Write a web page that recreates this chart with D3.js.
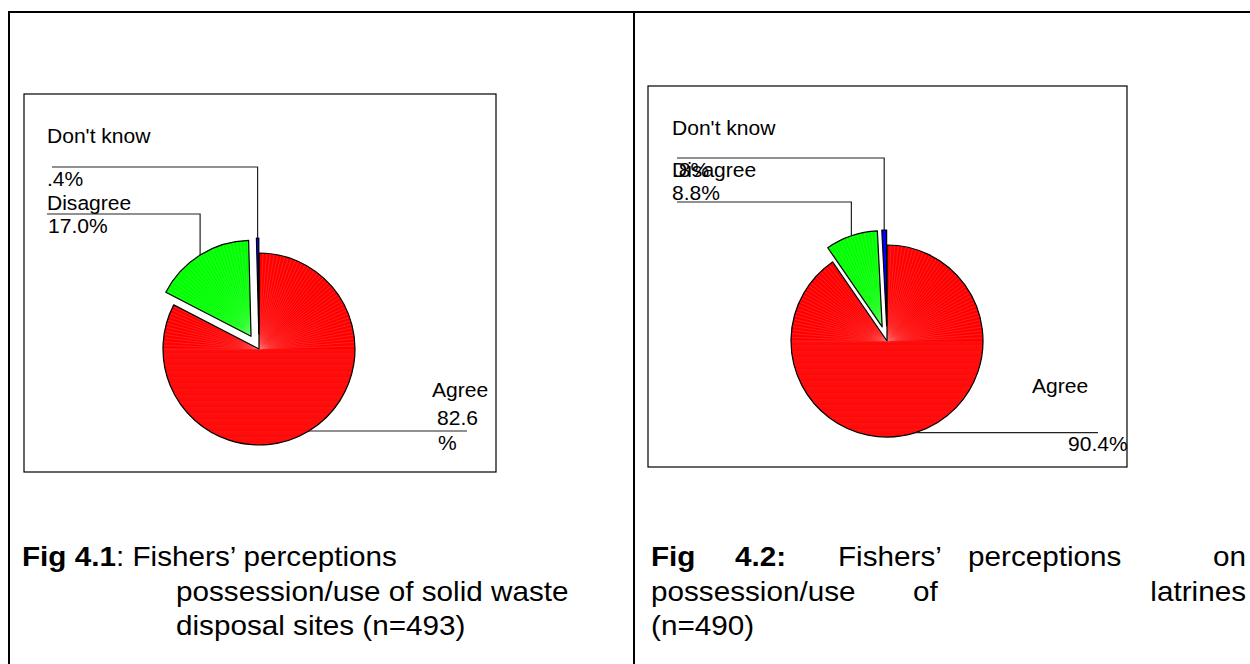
<!DOCTYPE html>
<html>
<head>
<meta charset="utf-8">
<script src="https://cdn.jsdelivr.net/npm/d3@7"></script>
<style>
  body { margin: 0; background: #fff; }
  svg { display: block; }
  text { font-family: "Liberation Sans", Arial, sans-serif; fill: #000; }
</style>
</head>
<body>
<svg id="page" width="1250" height="664"></svg>
<script>
// Survey responses (percent of fishers)
const categories = ["Agree", "Disagree", "Don't know"];
const wasteValues = [82.6, 17.0, 0.4];     // Fig 4.1, n=493
const latrineValues = [90.4, 8.8, 0.8];    // Fig 4.2, n=490
const sliceColors = ["#ff0000", "#00ff00", "#0000ff"];

const wasteCaption = [
  [{t: "Fig 4.1", b: true}, {t: ": Fishers\u2019 perceptions"}],
  [{t: "possession/use of solid waste"}],
  [{t: "disposal sites (n=493)"}]
];
const latrineCaption = [
  ["Fig|b", "4.2:|b", "Fishers\u2019", "perceptions", "on"],
  ["possession/use", "of", "latrines"],
  ["(n=490)"]
];

const svg = d3.select("#page");
const fmtPct = v => {
  const s = d3.format(".1f")(v);
  return v < 1 ? s.replace(/^0/, "") : s;
};

// ---------- page frame (table rules) ----------
const frame = svg.append("g").attr("stroke", "#000").attr("stroke-width", 2);
frame.append("line").attr("x1", 8).attr("x2", 1250).attr("y1", 12).attr("y2", 12);
frame.append("line").attr("x1", 9).attr("x2", 9).attr("y1", 11).attr("y2", 664);
frame.append("line").attr("x1", 634).attr("x2", 634).attr("y1", 11).attr("y2", 664);

// ---------- pie charts ----------
const charts = [
  {
    values: wasteValues, box: [24, 94, 496, 472], cx: 259, cy: 349, r: 96,
    labels: {
      "Don't know": {name: [47, 143], lineY: 167, lineX: 52, value: [47, 186]},
      "Disagree":   {name: [47, 210], lineY: 214, lineX: 47, value: [48, 233]},
      "Agree":      {name: [432, 397], value: [437, 425], wrap: [438, 450], lineX: 467}
    }
  },
  {
    values: latrineValues, box: [648, 86, 1127, 467], cx: 887, cy: 341, r: 96,
    labels: {
      "Don't know": {name: [672, 135], lineY: 158, lineX: 677, value: [673, 177]},
      "Disagree":   {name: [672, 177], lineY: 202, lineX: 677, value: [672, 200]},
      "Agree":      {name: [1032, 393], value: [1068, 451], lineX: 1098}
    }
  }
];

const pie = d3.pie().sort(null).value(d => d.value);
const explode = 15;
const labelSize = 19.5, stretch = 1.08;

function stretchedText(g, x, y, str) {
  return g.append("text")
    .attr("transform", `translate(${x},${y}) scale(${stretch},1)`)
    .attr("font-size", labelSize)
    .text(str);
}

charts.forEach((c, ci) => {
  const [bx0, by0, bx1, by1] = c.box;
  svg.append("rect")
    .attr("x", bx0).attr("y", by0).attr("width", bx1 - bx0).attr("height", by1 - by0)
    .attr("fill", "none").attr("stroke", "#000").attr("stroke-width", 1.2);

  const rows = categories.map((k, i) => ({key: k, value: c.values[i], color: sliceColors[i]}));
  const arcs = pie(rows);
  const arc = d3.arc().innerRadius(0).outerRadius(c.r);

  const g = svg.append("g").attr("transform", `translate(${c.cx},${c.cy})`);

  arcs.forEach((d, i) => {
    const mid = (d.startAngle + d.endAngle) / 2;
    const off = i === 0 ? 0 : explode;
    d.dx = Math.sin(mid) * off;
    d.dy = -Math.cos(mid) * off;
    d.mid = mid;

    const sg = g.append("g").attr("transform", `translate(${d.dx},${d.dy})`);
    const clipId = `slice-${ci}-${i}`;
    sg.append("clipPath").attr("id", clipId).append("path").attr("d", arc(d));
    sg.append("path").attr("d", arc(d)).attr("fill", d.data.color);

    // shaded fill: radial strokes in the upper half, horizontal bands below
    if (i < 2) {
      const tex = sg.append("g").attr("clip-path", `url(#${clipId})`)
        .attr("stroke", i === 0 ? "#ff7a7a" : "#8dff8d")
        .attr("stroke-width", 0.6).attr("stroke-opacity", 0.45);
      d3.range(-90, 90.1, 2.2).forEach(deg => {
        const a = deg * Math.PI / 180;
        tex.append("line").attr("x1", 0).attr("y1", 0)
          .attr("x2", Math.sin(a) * c.r).attr("y2", -Math.cos(a) * c.r);
      });
      d3.range(1, c.r, 2).forEach(y => {
        tex.append("line").attr("x1", -c.r).attr("x2", c.r).attr("y1", y).attr("y2", y)
          .attr("stroke-opacity", 0.25 + 0.2 * ((y * 7) % 3) / 2);
      });
    }
    sg.append("path").attr("d", arc(d)).attr("fill", "none")
      .attr("stroke", "#000").attr("stroke-width", 1.2).attr("stroke-linejoin", "round");
  });

  // leader lines and labels
  const lg = svg.append("g");
  arcs.forEach(d => {
    const L = c.labels[d.data.key];
    const px = c.cx + d.dx + Math.sin(d.mid) * c.r;
    const py = c.cy + d.dy - Math.cos(d.mid) * c.r;
    let pts;
    if (d.data.key === "Agree") {
      pts = [[px, py], [L.lineX, py]];
    } else {
      pts = [[px, py], [px, L.lineY], [L.lineX, L.lineY]];
    }
    lg.append("path").attr("d", d3.line()(pts))
      .attr("fill", "none").attr("stroke", "#222").attr("stroke-width", 1.2);

    stretchedText(lg, L.name[0], L.name[1], d.data.key);
    const v = fmtPct(d.data.value);
    if (L.wrap) {
      stretchedText(lg, L.value[0], L.value[1], v);
      stretchedText(lg, L.wrap[0], L.wrap[1], "%");
    } else {
      stretchedText(lg, L.value[0], L.value[1], v + "%");
    }
  });
});

// ---------- captions ----------
const capSize = 28, capStretch = 1.06, capLead = 34.5, capTop = 566;

// Fig 4.1: first line flush left, following lines indented
const cap1 = svg.append("g");
wasteCaption.forEach((line, li) => {
  const x = li === 0 ? 22 : 176;
  const y = capTop + li * capLead;
  const t = cap1.append("text")
    .attr("transform", `translate(${x},${y}) scale(${capStretch},1)`)
    .attr("font-size", capSize);
  line.forEach(seg => t.append("tspan").attr("font-weight", seg.b ? "bold" : null).text(seg.t));
});

// Fig 4.2: justified lines; first word flush left, last word flush right,
// inner words at the paragraph's space stops
const capLeft = 651, capRight = 1246;
const innerStops = [
  [735, 838, 968],
  [913],
  []
];
const cap2 = svg.append("g");
latrineCaption.forEach((words, li) => {
  const y = capTop + li * capLead;
  const justified = li < latrineCaption.length - 1;
  words.forEach((w, wi) => {
    const [txt, flag] = w.split("|");
    const last = justified && wi === words.length - 1;
    const x = wi === 0 ? capLeft : last ? capRight : innerStops[li][wi - 1];
    cap2.append("text").attr("font-size", capSize)
      .attr("font-weight", flag === "b" ? "bold" : null)
      .attr("text-anchor", last ? "end" : "start")
      .attr("transform", `translate(${x},${y}) scale(${capStretch},1)`)
      .text(txt);
  });
});
</script>
</body>
</html>
